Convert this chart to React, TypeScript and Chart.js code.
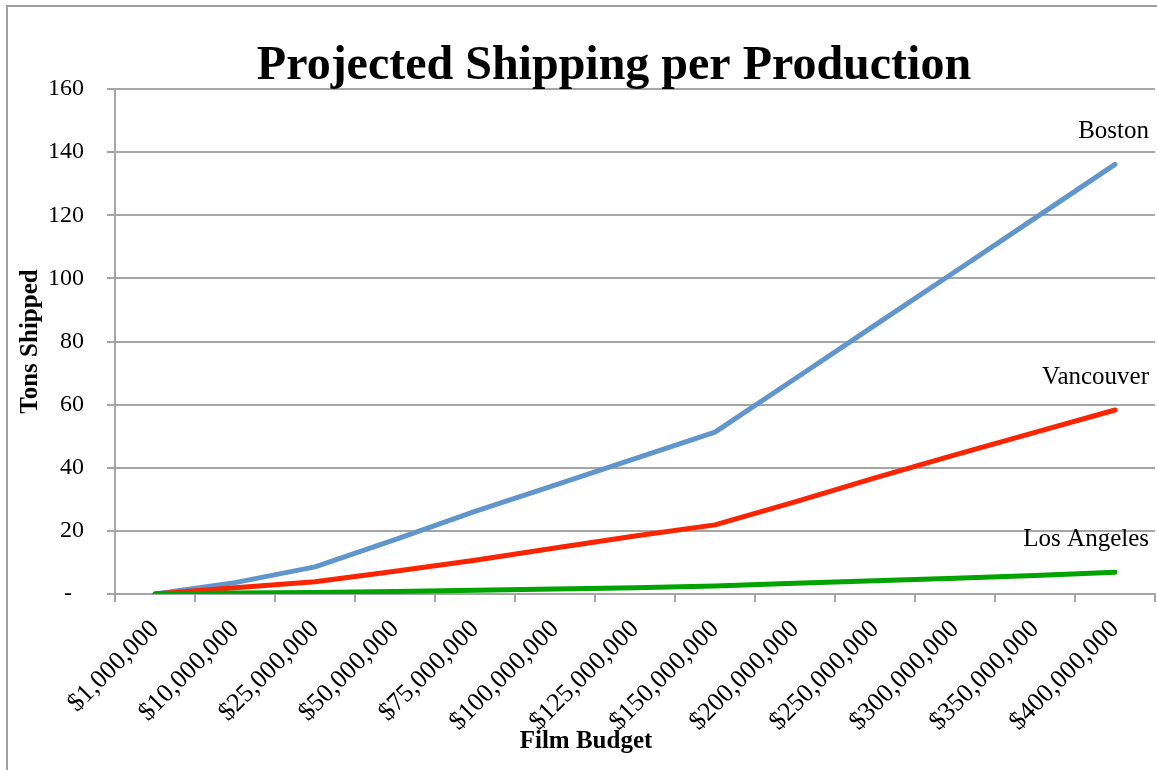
import React, { useEffect, useRef } from 'react';
import { Chart, registerables } from 'chart.js';

Chart.register(...registerables);

const categories = [
  '$1,000,000', '$10,000,000', '$25,000,000', '$50,000,000', '$75,000,000',
  '$100,000,000', '$125,000,000', '$150,000,000', '$200,000,000', '$250,000,000',
  '$300,000,000', '$350,000,000', '$400,000,000',
];
const boston = [0, 3.6, 8.6, 17.2, 26.2, 34.5, 42.9, 51.3, 68.2, 85.2, 102.1, 119.1, 136.1];
const vancouver = [0, 2.0, 3.9, 7.2, 10.7, 14.6, 18.4, 21.9, 29.2, 36.8, 44.1, 51.2, 58.3];
const losAngeles = [0, 0.3, 0.5, 0.8, 1.2, 1.6, 2.0, 2.5, 3.4, 4.2, 5.0, 5.9, 6.9];
const seriesNames = ['Boston', 'Vancouver', 'Los Angeles'];
const yMin = 0;
const yMax = 160;
const yStep = 20;

const titleText = 'Projected Shipping per Production';
const xTitle = 'Film Budget';
const yTitle = 'Tons Shipped';

const SERIF = '"Liberation Serif", "Times New Roman", Times, serif';
const GRID = '#a6a6a6';

export default function App() {
  const ref = useRef<HTMLCanvasElement>(null);

  useEffect(() => {
    document.body.style.margin = '0';
    const canvas = ref.current;
    if (!canvas) return;

    const overlay = {
      id: 'overlay',
      afterDatasetsDraw(chart: any) {
        const ctx = chart.ctx;
        ctx.save();
        ctx.fillStyle = '#000';
        ctx.textBaseline = 'alphabetic';
        ctx.textAlign = 'center';
        ctx.font = `bold 48px ${SERIF}`;
        ctx.fillText(titleText, 614, 79);
        ctx.font = `bold 25px ${SERIF}`;
        ctx.fillText(xTitle, 586, 748);
        ctx.font = `25px ${SERIF}`;
        ctx.textAlign = 'right';
        chart.data.datasets.forEach((ds: any, i: number) => {
          const meta = chart.getDatasetMeta(i);
          const pt = meta.data[meta.data.length - 1];
          ctx.fillText(ds.label, pt.x + 34, pt.y - 26);
        });
        ctx.restore();
      },
    };

    const mk = (label: string, data: number[], color: string, order: number) => ({
      label,
      data,
      borderColor: color,
      backgroundColor: color,
      borderWidth: 5,
      pointRadius: 0,
      pointHoverRadius: 0,
      tension: 0,
      borderCapStyle: 'round',
      borderJoinStyle: 'round',
      fill: false,
      order,
    });

    const chart = new Chart(canvas, {
      type: 'line',
      data: {
        labels: categories,
        datasets: [
          mk(seriesNames[0], boston, '#6096cc', 3),
          mk(seriesNames[1], vancouver, '#ff2400', 2),
          mk(seriesNames[2], losAngeles, '#00a300', 1),
        ] as any,
      },
      options: {
        animation: false,
        responsive: false,
        maintainAspectRatio: false,
        layout: { padding: { top: 89, right: 2, bottom: 0, left: 0 } },
        plugins: {
          legend: { display: false },
          title: { display: false },
          tooltip: { enabled: false },
        },
        scales: {
          x: {
            offset: true,
            grid: { offset: true, drawOnChartArea: false, color: GRID, lineWidth: 2, tickLength: 8 },
            border: { color: GRID, width: 2 },
            ticks: {
              autoSkip: false,
              minRotation: 45,
              maxRotation: 45,
              color: '#000',
              padding: 12,
              font: { family: SERIF, size: 26 },
            },
            afterFit: (s: any) => { s.height = 176; },
          },
          y: {
            min: yMin,
            max: yMax,
            ticks: {
              stepSize: yStep,
              color: '#000',
              padding: 23,
              font: { family: SERIF, size: 24 },
              callback: (v: any) => (Number(v) === 0 ? '-\u00a0\u00a0' : String(v)),
            },
            grid: { color: GRID, lineWidth: 2, tickLength: 8 },
            border: { color: GRID, width: 2 },
            title: {
              display: true,
              text: yTitle,
              color: '#000',
              font: { family: SERIF, size: 25, weight: 'bold' },
              padding: { top: 16, bottom: 0 },
            },
            afterFit: (s: any) => { s.width = 115; },
          },
        },
      } as any,
      plugins: [overlay],
    });

    return () => chart.destroy();
  }, []);

  return (
    <div style={{ position: 'relative', width: 1157, height: 770, overflow: 'hidden', background: '#fff' }}>
      <div
        style={{
          position: 'absolute',
          left: 6,
          top: 5,
          width: 1200,
          height: 800,
          border: '2px solid #a0a0a0',
          boxSizing: 'border-box',
        }}
      />
      <canvas ref={ref} width={1157} height={770} style={{ position: 'absolute', left: 0, top: 0 }} />
    </div>
  );
}
